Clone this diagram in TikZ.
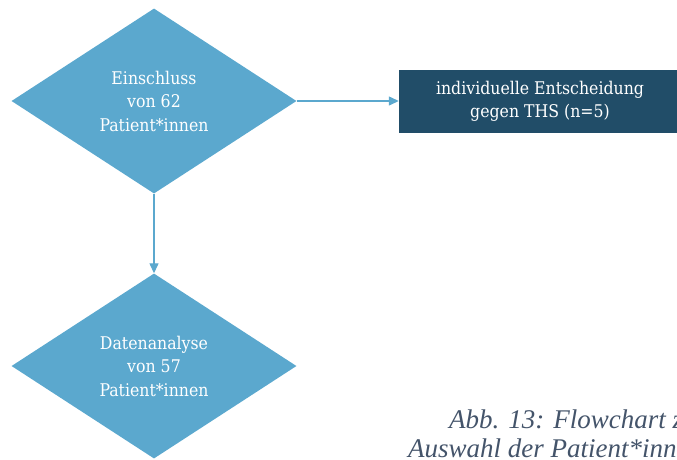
\documentclass[tikz,border=0pt]{standalone}
\usepackage{fontspec}
\setmainfont{DejaVu Serif Condensed}
\newfontfamily\captionfont{Liberation Serif}
\usetikzlibrary{shapes.geometric,positioning,arrows.meta}
\definecolor{lightblue}{HTML}{5BA8CE}
\definecolor{darkblue}{HTML}{214D68}
\definecolor{captiongray}{HTML}{44546A}

\begin{document}
\begin{tikzpicture}[x=1pt,y=-1pt,
    decision/.style={diamond, fill=lightblue, inner sep=0pt, aspect=1.54,
        minimum width=285pt, minimum height=185pt, text=white,
        align=center, font=\fontsize{17.5}{23.5}\selectfont},
    outbox/.style={rectangle, fill=darkblue, inner sep=0pt,
        minimum width=282pt, minimum height=63pt, text=white,
        align=center, font=\fontsize{17.5}{23}\selectfont},
    flow/.style={draw=lightblue, line width=1.3pt, -{Triangle[length=10pt,width=9pt]}}]
	\useasboundingbox (0,0) rectangle (677,459);
	\clip (0,0) rectangle (677,459);
	\node[decision] (incl) at (154,101) {Einschluss\\von 62\\Patient*innen};
	\node[decision] (anal) at (154,366) {Datenanalyse\\von 57\\Patient*innen};
	\node[outbox] (excl) at (540,101) {individuelle Entscheidung\\gegen THS (n=5)};
	\draw[flow] (incl.east) -- (excl.west);
	\draw[flow] (incl.south) -- (anal.north);
	% caption, cut off at the right edge
	\node[anchor=base west, inner sep=0pt, text=captiongray,
		font=\captionfont\itshape\fontsize{27}{29}\selectfont] (capa) at (449,428) {Abb. 13: Flowchart zur};
	\node[anchor=base west, inner sep=0pt, text=captiongray,
		font=\captionfont\itshape\fontsize{27}{29}\selectfont] (capb) at (408,457) {Auswahl der Patient*innen};
\end{tikzpicture}
\end{document}
